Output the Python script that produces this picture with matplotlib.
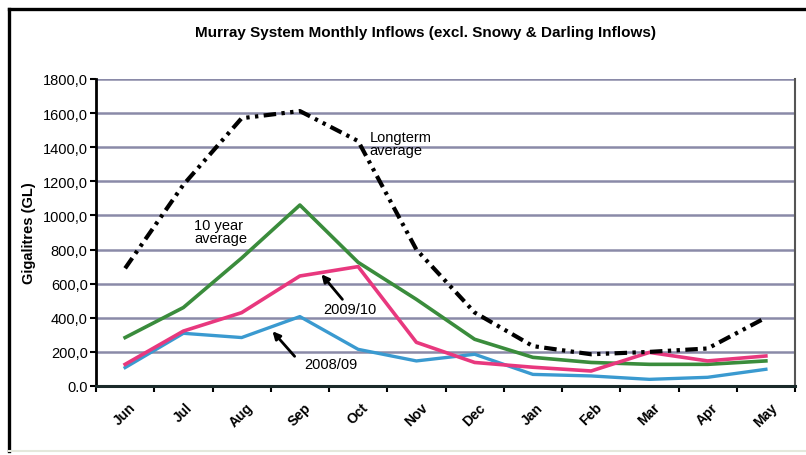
import matplotlib
matplotlib.use("Agg")
import matplotlib.pyplot as plt
from matplotlib.lines import Line2D

months = ["Jun", "Jul", "Aug", "Sep", "Oct", "Nov", "Dec", "Jan", "Feb", "Mar", "Apr", "May"]
longterm = [690, 1180, 1570, 1612, 1436, 800, 431, 234, 186, 200, 220, 401]
ten_year = [284, 460, 750, 1061, 725, 508, 274, 168, 138, 127, 127, 147]
y2009_10 = [127, 322, 430, 645, 700, 256, 138, 110, 88, 197, 147, 176]
y2008_09 = [108, 309, 284, 407, 215, 147, 186, 68, 59, 39, 51, 98]
ytick_vals = [0, 200, 400, 600, 800, 1000, 1200, 1400, 1600, 1800]
ytick_labels = ["0.0", "200,0", "400,0", "600,0", "800,0", "1000,0", "1200,0", "1400,0", "1600,0", "1800,0"]

FONT = ["Liberation Sans Narrow", "Liberation Sans", "DejaVu Sans"]
plt.rcParams["font.family"] = FONT

fig = plt.figure(figsize=(8.06, 4.56), dpi=100)
W, H = 806, 456

def fx(px):
    return px / W

def fy(py):
    return 1 - py / H

# outer chart frame: heavy top and left, faint bottom
fig.add_artist(Line2D([fx(9), fx(806)], [fy(10), fy(10)], color="black", linewidth=2.4))
fig.add_artist(Line2D([fx(9), fx(9)], [fy(10), fy(452)], color="black", linewidth=2.4))
fig.add_artist(Line2D([fx(9), fx(806)], [fy(452), fy(452)], color="#e4e8dc", linewidth=1.5))

ax = fig.add_axes([fx(96), fy(387), (795 - 96) / W, (387 - 80) / H])
x = list(range(len(months)))

ax.set_xlim(-0.5, 11.5)
ax.set_ylim(0, 1800)
for v in ytick_vals[1:]:
    ax.axhline(v, color="#8a8aa8", linewidth=1.8, zorder=1)

ax.plot(x, ten_year, color="#3a8c3c", linewidth=2.6, zorder=3)
ax.plot(x, y2009_10, color="#e8387e", linewidth=2.6, zorder=4)
ax.plot(x, y2008_09, color="#3a9ad0", linewidth=2.4, zorder=3)
ax.plot(x, longterm, color="black", linewidth=3.0, zorder=5,
        dashes=(3, 1.3, 0.8, 1.3, 0.8, 1.3))

ax.set_yticks(ytick_vals)
ax.set_yticklabels(ytick_labels, fontsize=10.5)
ax.tick_params(axis="y", direction="out", length=4, width=1.5, pad=2)

ax.set_xticks([i - 0.5 for i in range(13)])
ax.set_xticklabels([])
ax.set_xticks(x, minor=True)
ax.set_xticklabels(months, minor=True, rotation=45, fontsize=10, fontweight="bold",
                   ha="center", va="top")
ax.tick_params(axis="x", which="major", direction="out", length=4, width=1.5)
ax.tick_params(axis="x", which="minor", length=0, pad=10)

ax.spines["top"].set_visible(False)
ax.spines["right"].set_color("#555555")
ax.spines["right"].set_linewidth(1.5)
ax.spines["left"].set_linewidth(2)
ax.spines["bottom"].set_linewidth(2.2)
ax.spines["bottom"].set_color("#1a2a2a")

ax.set_ylabel("Gigalitres (GL)", fontsize=10.5, fontweight="bold", labelpad=5)
fig.text(fx(425), fy(33), "Murray System Monthly Inflows (excl. Snowy & Darling Inflows)",
         ha="center", va="center", fontsize=11, fontweight="bold")

ax.text(4.2, 1423, "Longterm\naverage", fontsize=10.5, ha="left", va="center",
        linespacing=0.95, zorder=6)
ax.text(1.19, 907, "10 year\naverage", fontsize=10.5, ha="left", va="center",
        linespacing=0.95, zorder=6)

arrow = dict(arrowstyle="-|>", color="black", lw=2.0, shrinkA=0, shrinkB=0,
             mutation_scale=11)
ax.text(3.86, 449, "2009/10", fontsize=10.5, ha="center", va="center", zorder=6)
ax.annotate("", xy=(3.37, 655), xytext=(3.73, 508), arrowprops=arrow, zorder=6)
ax.text(3.53, 127, "2008/09", fontsize=10.5, ha="center", va="center", zorder=6)
ax.annotate("", xy=(2.53, 321), xytext=(2.91, 174), arrowprops=arrow, zorder=6)

fig.savefig("out.png", dpi=100)
